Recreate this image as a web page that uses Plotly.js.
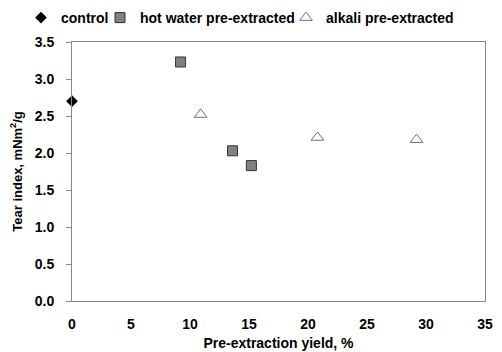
<!DOCTYPE html>
<html><head><meta charset="utf-8">
<script src="https://cdn.plot.ly/plotly-3.0.1.min.js"></script>
<style>html,body{margin:0;padding:0;background:#fff}#c{width:502px;height:352px}</style>
</head><body><div id="c"></div>
<script>
const controlX=[0];
const controlY=[2.70];
const hotX=[9.2,13.6,15.2];
const hotY=[3.23,2.03,1.83];
const alkX=[10.9,20.8,29.2];
const alkY=[2.52,2.21,2.18];
const xTicks=[0,5,10,15,20,25,30,35];
const yTicks=[0,0.5,1,1.5,2,2.5,3,3.5];
const yTickText=['0.0','0.5','1.0','1.5','2.0','2.5','3.0','3.5'];

const FAM='Arial, Liberation Sans, sans-serif';
const data=[
 {x:controlX,y:controlY,name:'control',mode:'markers',type:'scatter',cliponaxis:false,legend:'legend',
  marker:{symbol:'diamond',size:9,color:'#000'}},
 {x:hotX,y:hotY,name:'hot water pre-extracted',mode:'markers',type:'scatter',cliponaxis:false,legend:'legend2',
  marker:{symbol:'square',size:10,color:'#808080',line:{color:'#333',width:1}}},
 {x:alkX,y:alkY,name:'alkali pre-extracted',mode:'markers',type:'scatter',cliponaxis:false,legend:'legend3',
  marker:{symbol:'triangle-up-open',size:11,color:'#707070',line:{width:1}}}
];
const lf={family:FAM,size:14,color:'#000',weight:'bold'};
function leg(px){return {orientation:'h',xref:'container',yref:'container',x:px/502,xanchor:'left',
  y:1-18/352,yanchor:'middle',font:lf,itemwidth:30,bgcolor:'rgba(0,0,0,0)'};}
const layout={
 width:502,height:352,margin:{l:72,r:17,t:42,b:51,autoexpand:false},
 paper_bgcolor:'#fff',plot_bgcolor:'#fff',showlegend:true,
 font:{family:FAM,size:12,color:'#000'},
 legend:leg(21),legend2:leg(100),legend3:leg(286),
 xaxis:{range:[0,35],tickvals:xTicks,ticktext:xTicks.map(String),showgrid:false,zeroline:false,
   showline:true,linecolor:'#888',linewidth:1,mirror:true,ticks:'outside',ticklen:0,ticklabelstandoff:10,
   tickfont:{family:FAM,size:14,color:'#000',weight:'bold'},
   title:{text:'Pre-extraction yield, %',standoff:7,font:{family:FAM,size:14,color:'#000',weight:'bold'}}},
 yaxis:{range:[0,3.5],tickvals:yTicks,ticktext:yTickText,showgrid:false,zeroline:false,
   showline:true,linecolor:'#888',linewidth:1,mirror:true,ticks:'outside',ticklen:5,tickcolor:'#888',ticklabelstandoff:9,
   tickfont:{family:FAM,size:14,color:'#000',weight:'bold'},
   title:{text:'Tear index, mNm<sup>2</sup>/g',standoff:9,font:{family:FAM,size:13,color:'#000',weight:'bold'}}}
};
Plotly.newPlot('c',data,layout,{displayModeBar:false,staticPlot:true});
</script></body></html>
